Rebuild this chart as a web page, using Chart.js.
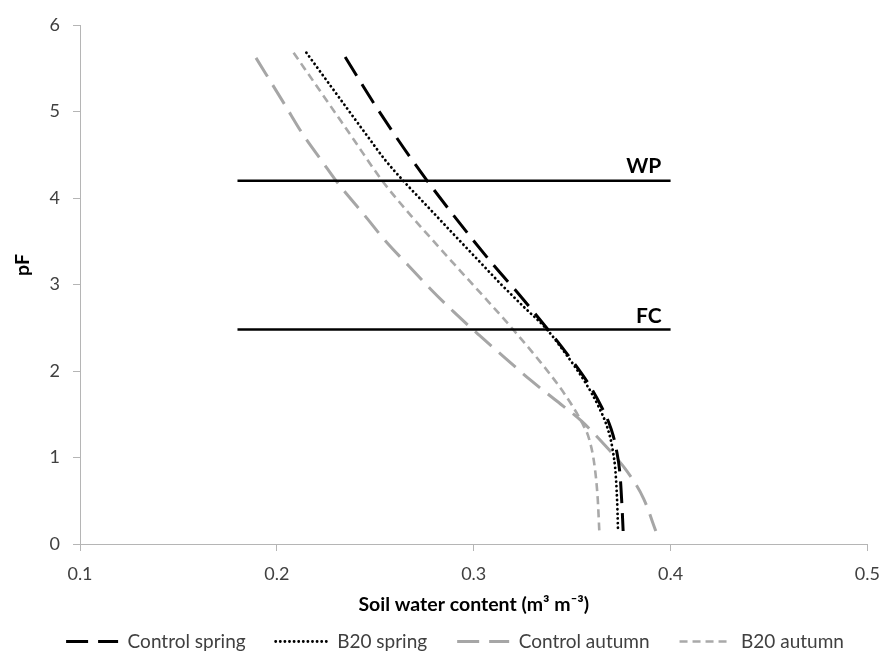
<!DOCTYPE html>
<html>
<head>
<meta charset="utf-8">
<script src="https://cdn.jsdelivr.net/npm/chart.js@4/dist/chart.umd.min.js"></script>
<style>
  html, body { margin: 0; padding: 0; background: #ffffff; }
  #wrap { width: 892px; height: 651px; }
</style>
</head>
<body>
<div id="wrap"><canvas id="c" width="892" height="651"></canvas></div>
<script>
// ---------- DATA ----------
const seriesNames = ['Control spring', 'B20 spring', 'Control autumn', 'B20 autumn'];

// Soil water content (m3 m-3) and pF for each retention curve
const controlSpringX  = [0.2347, 0.2497, 0.2693, 0.2894, 0.3106, 0.3221, 0.3377, 0.3477, 0.3578, 0.3648, 0.3698, 0.3724, 0.3744, 0.3754, 0.3759];
const controlSpringPF = [5.63,   5.08,   4.42,   3.81,   3.21,   2.91,   2.48,   2.19,   1.87,   1.59,   1.33,   1.10,   0.78,   0.40,   0.15];

const b20SpringX  = [0.2150, 0.2320, 0.2465, 0.2550, 0.2650, 0.2766, 0.2890, 0.3015, 0.3140, 0.3255, 0.3372, 0.3470, 0.3566, 0.3634, 0.3681, 0.3705, 0.3722, 0.3730, 0.3733];
const b20SpringPF = [5.68,   5.15,   4.70,   4.44,   4.18,   3.90,   3.60,   3.30,   3.00,   2.74,   2.48,   2.19,   1.87,   1.59,   1.33,   1.10,   0.78,   0.40,   0.15];

const controlAutumnX  = [0.1894, 0.2040, 0.2131, 0.2231, 0.2307, 0.2442, 0.2553, 0.2668, 0.2784, 0.2900, 0.3025, 0.3150, 0.3286, 0.3412, 0.3548, 0.3663, 0.3779, 0.3864, 0.3925];
const controlAutumnPF = [5.62,   5.08,   4.74,   4.42,   4.18,   3.81,   3.50,   3.22,   2.94,   2.68,   2.42,   2.17,   1.90,   1.67,   1.42,   1.15,   0.84,   0.52,   0.15];

const b20AutumnX  = [0.2085, 0.2231, 0.2383, 0.2535, 0.2680, 0.2820, 0.2955, 0.3075, 0.3200, 0.3340, 0.3435, 0.3503, 0.3548, 0.3588, 0.3614, 0.3630, 0.3638];
const b20AutumnPF = [5.68,   5.20,   4.70,   4.20,   3.80,   3.44,   3.10,   2.80,   2.48,   2.10,   1.82,   1.59,   1.41,   1.20,   0.90,   0.52,   0.15];

// Reference lines: wilting point and field capacity
const refLineNames = ['WP', 'FC'];
const refLinePF    = [4.2, 2.48];
const refLineX     = [0.18, 0.40];

const xTickValues = [0.1, 0.2, 0.3, 0.4, 0.5];
const xTickLabels = ['0.1', '0.2', '0.3', '0.4', '0.5'];
const yTickValues = [0, 1, 2, 3, 4, 5, 6];
const yTickLabels = ['0', '1', '2', '3', '4', '5', '6'];

const xTitle = 'Soil water content (m³ m⁻³)';
const yTitle = 'pF';

// ---------- BUILD ----------
const zip = (xs, ys) => xs.map((x, i) => ({ x: x, y: ys[i] }));

const curveStyles = [
  { borderColor: '#000000', borderWidth: 3,   borderDash: [22, 10], borderCapStyle: 'butt' },
  { borderColor: '#000000', borderWidth: 2.8, borderDash: [0.1, 4.5], borderCapStyle: 'round' },
  { borderColor: '#a6a6a6', borderWidth: 3,   borderDash: [22, 10], borderCapStyle: 'butt' },
  { borderColor: '#a9a9a9', borderWidth: 2.6, borderDash: [8, 5],  borderCapStyle: 'butt' }
];
const curveData = [
  zip(controlSpringX, controlSpringPF),
  zip(b20SpringX, b20SpringPF),
  zip(controlAutumnX, controlAutumnPF),
  zip(b20AutumnX, b20AutumnPF)
];

const datasets = [];
refLineNames.forEach((name, i) => {
  datasets.push({
    label: name,
    data: refLineX.map(x => ({ x: x, y: refLinePF[i] })),
    showLine: true,
    borderColor: '#000000',
    borderWidth: 2.5,
    pointRadius: 0,
    pointHoverRadius: 0,
    fill: false
  });
});
seriesNames.forEach((name, i) => {
  datasets.push(Object.assign({
    label: name,
    data: curveData[i],
    showLine: true,
    pointRadius: 0,
    pointHoverRadius: 0,
    fill: false,
    cubicInterpolationMode: 'monotone'
  }, curveStyles[i]));
});

const extraTextPlugin = {
  id: 'extraText',
  afterDatasetsDraw(chart) {
    const ctx = chart.ctx;
    const xs = chart.scales.x, ys = chart.scales.y;
    ctx.save();
    ctx.fillStyle = '#000000';
    ctx.font = 'bold 21px Lato';
    ctx.textAlign = 'center';
    ctx.textBaseline = 'middle';
    const labelX = [0.3864, 0.3889];
    const labelOffset = [-14.5, -13.5];
    refLineNames.forEach((name, i) => {
      ctx.fillText(name, xs.getPixelForValue(labelX[i]), ys.getPixelForValue(refLinePF[i]) + labelOffset[i]);
    });
    // y-axis title
    ctx.font = 'bold 19.5px Lato';
    ctx.translate(23, 265);
    ctx.rotate(-Math.PI / 2);
    ctx.fillText(yTitle, 0, 0);
    ctx.restore();
  }
};

new Chart(document.getElementById('c'), {
  type: 'scatter',
  data: { datasets: datasets },
  options: {
    responsive: false,
    animation: false,
    devicePixelRatio: 1,
    events: [],
    layout: { padding: { left: 34, right: 16, top: 25, bottom: -10 } },
    plugins: {
      legend: {
        position: 'bottom',
        labels: {
          usePointStyle: true,
          pointStyle: 'line',
          pointStyleWidth: 52,
          padding: 30,
          color: '#404040',
          font: { family: 'Lato', size: 19 },
          generateLabels: chart => chart.data.datasets
            .map((ds, i) => ({ ds: ds, i: i }))
            .filter(o => seriesNames.includes(o.ds.label))
            .map(o => ({
              text: o.ds.label,
              datasetIndex: o.i,
              fillStyle: 'rgba(0,0,0,0)',
              strokeStyle: o.ds.borderColor,
              fontColor: '#404040',
              lineWidth: o.ds.borderWidth,
              lineDash: o.ds.borderDash,
              lineCap: o.ds.borderCapStyle,
              pointStyle: 'line',
              hidden: false
            }))
        }
      },
      tooltip: { enabled: false }
    },
    scales: {
      x: {
        type: 'linear',
        min: 0.1,
        max: 0.5,
        afterBuildTicks: s => { s.ticks = xTickValues.map(v => ({ value: v })); },
        afterFit: s => { s.height = 58; },
        grid: { drawOnChartArea: false, tickLength: 7, color: '#b5b5b5', lineWidth: 1 },
        border: { color: '#b5b5b5', width: 1 },
        ticks: {
          padding: 12,
          color: '#404040',
          font: { family: 'Lato', size: 18 },
          maxRotation: 0,
          callback: (v, i) => xTickLabels[i]
        },
        title: {
          display: true,
          text: xTitle,
          color: '#000000',
          font: { family: 'Lato', size: 19.5, weight: 'bold' },
          padding: { top: 0, bottom: -14 }
        }
      },
      y: {
        type: 'linear',
        min: 0,
        max: 6,
        afterBuildTicks: s => { s.ticks = yTickValues.map(v => ({ value: v })); },
        afterFit: s => { s.width = 46; },
        grid: { drawOnChartArea: false, tickLength: 7, color: '#b5b5b5', lineWidth: 1 },
        border: { color: '#b5b5b5', width: 1 },
        ticks: {
          padding: 13,
          color: '#404040',
          font: { family: 'Lato', size: 18 },
          callback: (v, i) => yTickLabels[i]
        },
        title: { display: false }
      }
    }
  },
  plugins: [extraTextPlugin]
});
</script>
</body>
</html>
